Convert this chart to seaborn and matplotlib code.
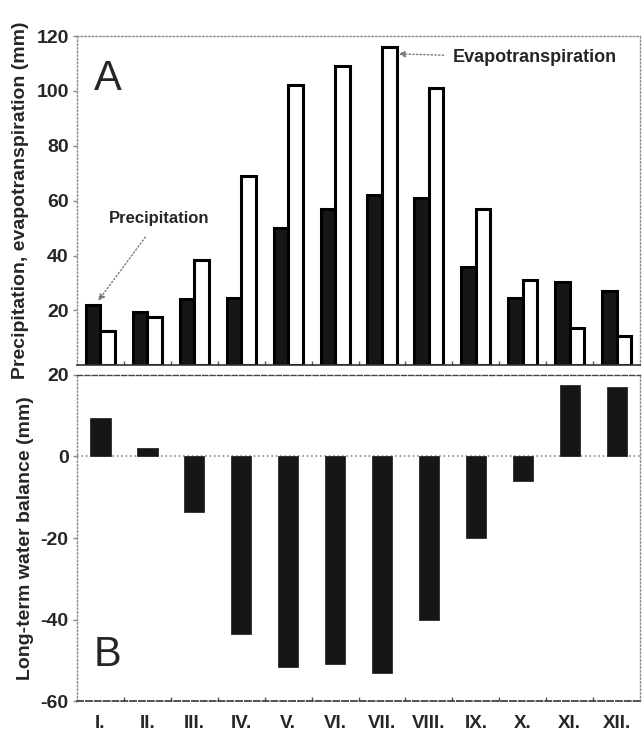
import numpy as np
import pandas as pd
import seaborn as sns
import matplotlib.pyplot as plt
from matplotlib.ticker import FixedLocator

months = ['I.', 'II.', 'III.', 'IV.', 'V.', 'VI.', 'VII.', 'VIII.', 'IX.', 'X.', 'XI.', 'XII.']
precipitation = [22, 19.5, 24, 24.5, 50, 57, 62, 61, 36, 24.5, 30.5, 27]
evapotranspiration = [12.5, 17.5, 38.5, 69, 102, 109, 116, 101, 57, 31, 13.5, 10.5]
water_balance = [9.5, 2, -13.5, -43.5, -51.5, -51, -53, -40, -20, -6, 17.5, 17]

sns.set_theme(style="white")
plt.rcParams['font.family'] = ['Liberation Sans', 'DejaVu Sans']
plt.rcParams['axes.unicode_minus'] = False

dark = '#161616'
frame = '#8a8a8a'

df = pd.DataFrame({'month': months * 2,
                   'series': ['Precipitation'] * 12 + ['Evapotranspiration'] * 12,
                   'value': precipitation + evapotranspiration})

fig = plt.figure(figsize=(6.42, 7.35), dpi=100)
ax1 = fig.add_axes([0.12, 0.503, 0.877, 0.448])
ax2 = fig.add_axes([0.12, 0.046, 0.877, 0.444])

# panel A - grouped bars
sns.barplot(data=df, x='month', y='value', hue='series', ax=ax1, width=0.62,
            palette={'Precipitation': dark, 'Evapotranspiration': 'white'},
            edgecolor='black', linewidth=2.2, legend=False)
ax1.set_ylim(0, 120)
ax1.set_xlim(-0.5, 11.5)
ax1.set_yticks([20, 40, 60, 80, 100, 120])
ax1.set_xticks([])
ax1.set_xlabel('')
ax1.set_ylabel('Precipitation, evapotranspiration (mm)', fontsize=14, fontweight='bold', labelpad=5)
ax1.text(0.03, 0.93, 'A', transform=ax1.transAxes, fontsize=30, va='top', ha='left')

ax1.annotate('Precipitation', xy=(-0.05, precipitation[0] + 1.5), xytext=(1.25, 53.5),
             fontsize=12, fontweight='bold', ha='center', va='center',
             arrowprops=dict(arrowstyle='-|>', color='#777777', linestyle=':', lw=1.0,
                             shrinkA=7, shrinkB=0, mutation_scale=9))
ax1.annotate('Evapotranspiration', xy=(6.35, evapotranspiration[6] - 2.5), xytext=(7.5, 112),
             fontsize=13, fontweight='bold', ha='left', va='center',
             arrowprops=dict(arrowstyle='-|>', color='#777777', linestyle=':', lw=1.0,
                             shrinkA=4, shrinkB=0, mutation_scale=9))

# panel B - water balance
sns.barplot(x=months, y=water_balance, ax=ax2, color=dark, width=0.43,
            edgecolor=dark, linewidth=0.5, saturation=1)
ax2.set_ylim(-60, 20)
ax2.set_xlim(-0.5, 11.5)
ax2.set_yticks([-60, -40, -20, 0, 20])
ax2.axhline(0, color=frame, linestyle=':', lw=1.2, zorder=0)
ax2.set_ylabel('Long-term water balance (mm)', fontsize=14, fontweight='bold', labelpad=5)
ax2.text(0.03, 0.08, 'B', transform=ax2.transAxes, fontsize=30, va='bottom', ha='left')

for ax in (ax1, ax2):
    for side in ('top', 'right', 'left'):
        ax.spines[side].set_color(frame)
        ax.spines[side].set_linestyle(':')
        ax.spines[side].set_linewidth(1.0)
    ax.spines['bottom'].set_color('#333333')
    ax.spines['bottom'].set_linewidth(1.2)
    ax.tick_params(axis='y', which='major', left=True, length=3, width=1, color=frame,
                   labelsize=14, pad=3)
    for lab in ax.get_yticklabels():
        lab.set_fontweight('bold')
    ax.xaxis.set_minor_locator(FixedLocator(np.arange(0.5, 11, 1)))
    ax.tick_params(axis='x', which='minor', bottom=True, direction='in', length=3, color='#555555')

ax1.spines['bottom'].set_linestyle('-')
ax2.spines['top'].set_color('#444444')
ax2.spines['top'].set_linestyle('--')
ax2.spines['bottom'].set_linestyle('--')
ax2.tick_params(axis='x', which='major', bottom=False, labelsize=13.5, pad=4)
for lab in ax2.get_xticklabels():
    lab.set_fontweight('bold')
ax2.set_xlabel('')

fig.align_ylabels([ax1, ax2])
fig.savefig('out.png', dpi=100)
